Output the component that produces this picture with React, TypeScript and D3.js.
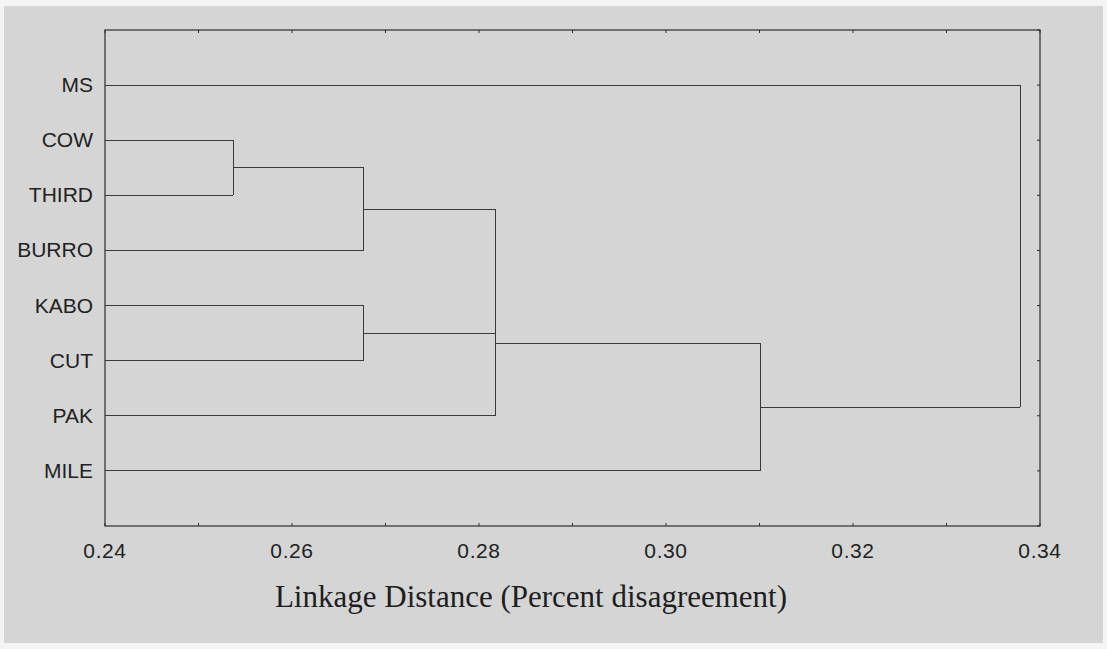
import React from "react";
import * as d3 from "d3";

// Leaf order (top to bottom) and agglomeration steps of the tree
const leaves = ["MS", "COW", "THIRD", "BURRO", "KABO", "CUT", "PAK", "MILE"];
const mergeIds = ["m1", "m2", "m3", "m4", "m5", "m6", "m7"];
const mergeLeft = ["COW", "m1", "KABO", "m2", "m4", "m5", "MS"];
const mergeRight = ["THIRD", "BURRO", "CUT", "m3", "PAK", "MILE", "m6"];
const mergeHeight = [0.2537, 0.2677, 0.2677, 0.2818, 0.2818, 0.3101, 0.3379];
const xTicks = [0.24, 0.26, 0.28, 0.3, 0.32, 0.34];
const xMinorTicks = [0.25, 0.27, 0.29, 0.31, 0.33];
const axisTitle = "Linkage Distance (Percent disagreement)";

const W = 1107;
const H = 649;
const frame = { left: 105, right: 1040, top: 30, bottom: 526 };

export default function App() {
  const x = d3.scaleLinear().domain([0.24, 0.34]).range([frame.left, frame.right]);
  const y = d3.scaleLinear().domain([-1, leaves.length]).range([frame.top, frame.bottom]);

  // node positions: leaves sit on the axis, merges at their linkage distance
  const pos: Record<string, { x: number; y: number }> = {};
  leaves.forEach((l, i) => (pos[l] = { x: x(0.24), y: y(i) }));

  const segs: { x1: number; y1: number; x2: number; y2: number }[] = [];
  mergeIds.forEach((id, i) => {
    const a = pos[mergeLeft[i]];
    const b = pos[mergeRight[i]];
    const hx = x(mergeHeight[i]);
    segs.push({ x1: a.x, y1: a.y, x2: hx, y2: a.y });
    segs.push({ x1: b.x, y1: b.y, x2: hx, y2: b.y });
    segs.push({ x1: hx, y1: a.y, x2: hx, y2: b.y });
    pos[id] = { x: hx, y: (a.y + b.y) / 2 };
  });

  const allTicks = [...xTicks, ...xMinorTicks];
  const ink = "#2e2e2e";
  const sans = "'Liberation Sans', Arial, sans-serif";

  return (
    <svg
      width={W}
      height={H}
      style={{ position: "absolute", left: 0, top: 0 }}
      xmlns="http://www.w3.org/2000/svg"
    >
      <rect x={0} y={0} width={W} height={H} fill="#f4f4f4" />
      <rect x={4} y={6} width={W - 8} height={H - 12} fill="#d5d5d5" />

      {/* frame */}
      <rect
        x={frame.left}
        y={frame.top}
        width={frame.right - frame.left}
        height={frame.bottom - frame.top}
        fill="none"
        stroke={ink}
        strokeWidth={1.2}
      />

      {/* inward ticks */}
      {allTicks.map((t) => (
        <g key={"t" + t}>
          <line x1={x(t)} x2={x(t)} y1={frame.bottom} y2={frame.bottom - 3} stroke={ink} />
          <line x1={x(t)} x2={x(t)} y1={frame.top} y2={frame.top + 3} stroke={ink} />
        </g>
      ))}
      {d3.range(-1, leaves.length + 1).map((i) => (
        <line
          key={"r" + i}
          x1={frame.right}
          x2={frame.right - 3}
          y1={y(i)}
          y2={y(i)}
          stroke={ink}
        />
      ))}

      {/* dendrogram */}
      <g shapeRendering="crispEdges">
        {segs.map((s, i) => (
          <line
            key={i}
            x1={s.x1}
            y1={s.y1}
            x2={s.x2}
            y2={s.y2}
            stroke="#3a3a3a"
            strokeWidth={1}
          />
        ))}
      </g>

      {/* leaf labels */}
      {leaves.map((l, i) => (
        <text
          key={l}
          x={93}
          y={y(i) + 7}
          textAnchor="end"
          fontFamily={sans}
          fontSize={21}
          fill="#222"
        >
          {l}
        </text>
      ))}

      {/* x tick labels */}
      {xTicks.map((t) => (
        <text
          key={"l" + t}
          x={x(t)}
          y={558}
          textAnchor="middle"
          fontFamily={sans}
          fontSize={21}
          letterSpacing={0.6}
          fill="#222"
        >
          {d3.format(".2f")(t)}
        </text>
      ))}

      <text
        x={531}
        y={607}
        textAnchor="middle"
        fontFamily="'Liberation Serif', 'Times New Roman', serif"
        fontSize={31}
        fill="#1e1e1e"
      >
        {axisTitle}
      </text>
    </svg>
  );
}
